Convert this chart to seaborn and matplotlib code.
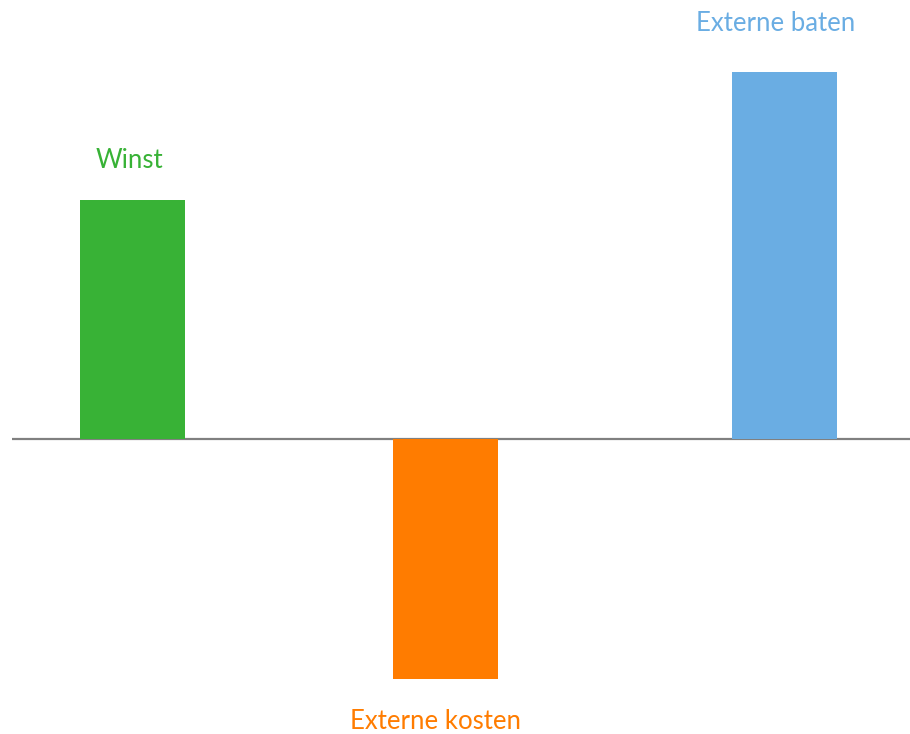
import matplotlib
matplotlib.use("Agg")
import matplotlib.pyplot as plt
import seaborn as sns
import pandas as pd

# Bar data
categories = ["Winst", "Externe kosten", "Externe baten"]
values = [65, -65.4, 100]
colors = ["#38B236", "#FF7C00", "#6AADE3"]

# Horizontal placement of the bars (uneven spacing)
positions = [0.0, 1.0, 2.086]

sns.set_theme(style="white")
plt.rcParams["font.family"] = ["Lato", "DejaVu Sans"]

df = pd.DataFrame({"pos": positions, "value": values, "label": categories})

fig = plt.figure(figsize=(9.10, 7.34), dpi=100)
ax = fig.add_axes([12 / 910, 0, 898 / 910, 1])

sns.barplot(
    data=df, x="pos", y="value", hue="label",
    palette=dict(zip(categories, colors)),
    native_scale=True, dodge=False, width=0.336,
    saturation=1, legend=False, ax=ax, zorder=3,
    linewidth=0,
)

ax.axhline(0, color="#808080", lw=1.6, zorder=2)

ax.set_xlim(-0.3856, 2.488)
ax.set_ylim(-80.4, 119.6)
ax.set_axis_off()

# Labels placed above positive bars and below negative ones (offsets in pixels)
label_offsets = {"Winst": (-3, 40), "Externe kosten": (-10, -43), "Externe baten": (-9, 48)}
for p, v, lab, c in zip(positions, values, categories, colors):
    dx, dy = label_offsets[lab]
    ax.annotate(lab, xy=(p, v), xytext=(dx * 0.72, dy * 0.72),
                textcoords="offset points", ha="center", va="center",
                fontsize=18.5, color=c)

fig.savefig("out.png", dpi=100)
